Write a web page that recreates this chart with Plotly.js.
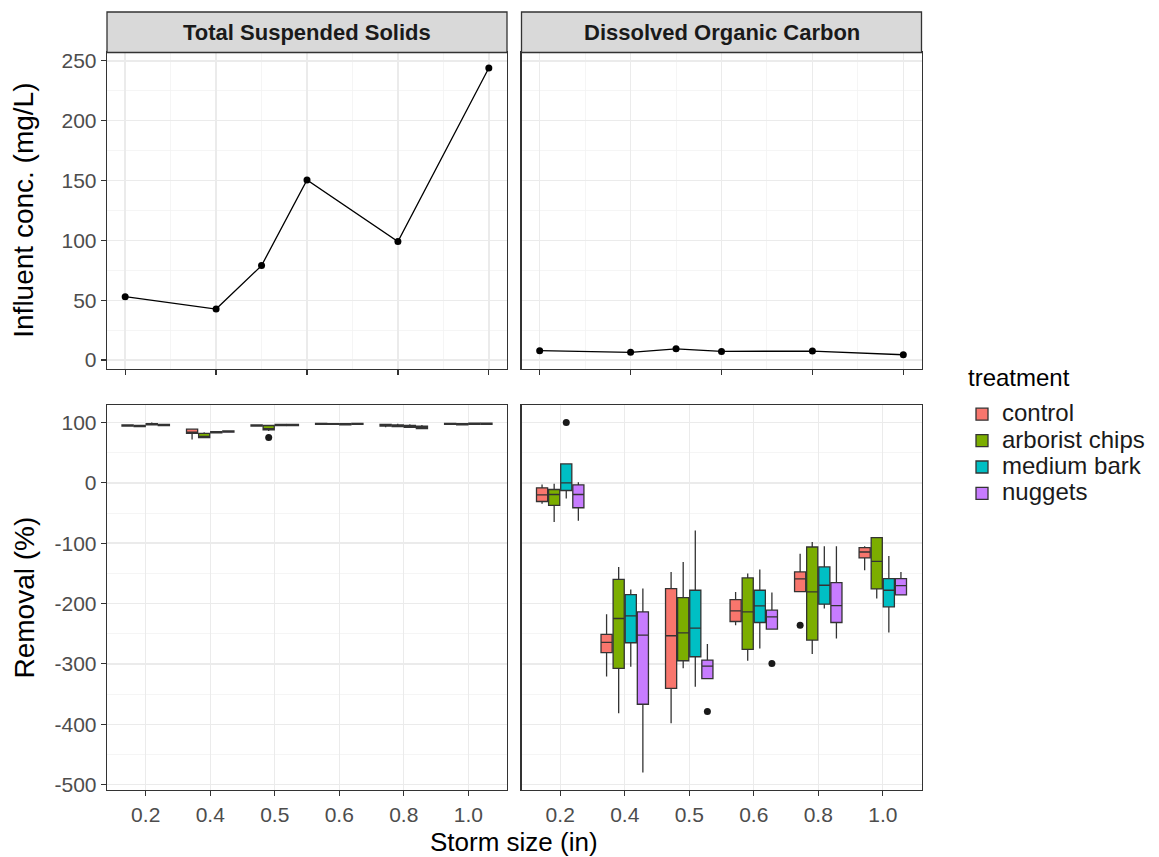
<!DOCTYPE html>
<html>
<head>
<meta charset="utf-8">
<script src="https://cdn.plot.ly/plotly-3.0.1.min.js"></script>
<style>html,body{margin:0;padding:0;background:#fff;}#chart{width:1159px;height:857px;}</style>
</head>
<body>
<div id="chart"></div>
<script>
// ---------------- DATA ----------------
const stormSizes = [0.2, 0.4, 0.5, 0.6, 0.8, 1.0];
const stormLabels = ['0.2', '0.4', '0.5', '0.6', '0.8', '1.0'];
const facetNames = ['Total Suspended Solids', 'Dissolved Organic Carbon'];
const tssInfluent = [52.9, 42.6, 78.9, 150.5, 99.0, 244.0];
const docInfluent = [7.8, 6.4, 9.4, 7.2, 7.5, 4.4];
const treatments = ['control', 'arborist chips', 'medium bark', 'nuggets'];
const removalTicks = [100, 0, -100, -200, -300, -400, -500];

// TSS removal (%) box statistics, per treatment, per storm size
const tssControlQ1  = [94, 82, 94, 97, 94, 97];
const tssControlMed = [95, 84, 95, 98, 95, 98];
const tssControlQ3  = [96, 89, 96, 98.5, 97, 98.5];
const tssControlLo  = [93, 72, 93, 96, 92, 96];
const tssControlHi  = [97, 89, 97, 99, 98, 99];
const tssControlOut = [[], [], [], [], [], []];

const tssChipsQ1  = [93, 75, 88, 97, 93, 96];
const tssChipsMed = [94, 77, 90, 97.5, 95, 97];
const tssChipsQ3  = [95, 82, 95, 98, 96, 98];
const tssChipsLo  = [92, 74, 86, 96, 93, 95];
const tssChipsHi  = [96, 84, 96, 99, 98, 99];
const tssChipsOut = [[], [], [75], [], [], []];

const tssBarkQ1  = [96, 83, 95, 96, 92, 97];
const tssBarkMed = [97, 84, 96, 97, 93, 98];
const tssBarkQ3  = [98, 85, 97, 98, 95, 99];
const tssBarkLo  = [95, 82, 94, 95, 91, 96];
const tssBarkHi  = [100, 86, 98, 99, 97, 99];
const tssBarkOut = [[], [], [], [], [], []];

const tssNuggetsQ1  = [95, 84, 95, 97, 90, 97];
const tssNuggetsMed = [96, 85, 96, 98, 92, 98];
const tssNuggetsQ3  = [97, 86, 97, 98.5, 94, 99];
const tssNuggetsLo  = [94, 83, 94, 97, 89, 96];
const tssNuggetsHi  = [98, 86, 98, 99, 96, 99];
const tssNuggetsOut = [[], [], [], [], [], []];

// DOC removal (%) box statistics
const docControlQ1  = [-30.9, -281.5, -340.5, -229.8, -180.2, -124.5];
const docControlMed = [-19.8, -264.5, -253.4, -212.1, -159.2, -114.6];
const docControlQ3  = [-8.3, -251.2, -175.2, -193.4, -147.7, -107.4];
const docControlLo  = [-34.7, -321.0, -398.3, -235.8, -180.2, -144.9];
const docControlHi  = [-2.8, -217.6, -147.7, -180.7, -117.4, -105.2];
const docControlOut = [[], [], [], [], [-235.8], []];

const docChipsQ1  = [-37.5, -307.4, -294.8, -276.0, -260.6, -175.8];
const docChipsMed = [-19.3, -224.8, -248.5, -213.8, -180.7, -130.0];
const docChipsQ3  = [-11.0, -159.8, -190.1, -157.6, -106.3, -90.9];
const docChipsLo  = [-65.0, -381.8, -307.4, -294.8, -283.7, -191.7];
const docChipsHi  = [-1.7, -139.4, -131.1, -150.4, -98.1, -89.8];
const docChipsOut = [[], [], [], [], [], []];

const docBarkQ1  = [-12.7, -265.0, -288.2, -231.4, -201.1, -205.5];
const docBarkMed = [0.0, -220.4, -240.8, -203.9, -169.7, -178.0];
const docBarkQ3  = [31.4, -185.1, -178.0, -178.0, -139.4, -158.7];
const docBarkLo  = [-26.0, -304.7, -337.7, -274.4, -208.3, -247.9];
const docBarkHi  = [31.4, -176.9, -78.8, -143.8, -105.2, -121.2];
const docBarkOut = [[100], [], [], [], [], []];

const docNuggetsQ1  = [-41.3, -366.9, -324.5, -242.4, -231.4, -185.7];
const docNuggetsMed = [-19.3, -252.3, -303.6, -222.0, -203.3, -170.2];
const docNuggetsQ3  = [-3.3, -213.8, -293.7, -211.0, -165.3, -158.7];
const docNuggetsLo  = [-63.0, -479.9, -324.5, -242.4, -257.9, -185.7];
const docNuggetsHi  = [1.0, -175.2, -267.2, -181.8, -105.2, -147.7];
const docNuggetsOut = [[], [], [-379], [-299.2], [], []];

// ---------------- STYLE ----------------
const W = 1159, H = 857;
const fillColors = ['#F8766D', '#7CAE00', '#00BFC4', '#C77CFF'];
const FONT = 'Liberation Sans, Arial, Helvetica, sans-serif';
const px = v => v / W;
const py = v => 1 - v / H;

const colLeft = [px(107), px(507)];
const colRight = [px(521.5), px(921.5)];
const rowTop = [py(369), py(52.5)];
const rowBottom = [py(790), py(405)];
const stripTop = py(12);

const tssStats = [
  [tssControlQ1, tssControlMed, tssControlQ3, tssControlLo, tssControlHi, tssControlOut],
  [tssChipsQ1, tssChipsMed, tssChipsQ3, tssChipsLo, tssChipsHi, tssChipsOut],
  [tssBarkQ1, tssBarkMed, tssBarkQ3, tssBarkLo, tssBarkHi, tssBarkOut],
  [tssNuggetsQ1, tssNuggetsMed, tssNuggetsQ3, tssNuggetsLo, tssNuggetsHi, tssNuggetsOut]
];
const docStats = [
  [docControlQ1, docControlMed, docControlQ3, docControlLo, docControlHi, docControlOut],
  [docChipsQ1, docChipsMed, docChipsQ3, docChipsLo, docChipsHi, docChipsOut],
  [docBarkQ1, docBarkMed, docBarkQ3, docBarkLo, docBarkHi, docBarkOut],
  [docNuggetsQ1, docNuggetsMed, docNuggetsQ3, docNuggetsLo, docNuggetsHi, docNuggetsOut]
];

const traces = [];
traces.push({
  type: 'scatter', mode: 'lines+markers', x: stormSizes, y: tssInfluent,
  xaxis: 'x', yaxis: 'y', showlegend: false, hoverinfo: 'skip',
  line: {color: '#000000', width: 1.3}, marker: {color: '#000000', size: 7}
});
traces.push({
  type: 'scatter', mode: 'lines+markers', x: stormSizes, y: docInfluent,
  xaxis: 'x2', yaxis: 'y2', showlegend: false, hoverinfo: 'skip',
  line: {color: '#000000', width: 1.3}, marker: {color: '#000000', size: 7}
});

function addBoxes(stats, xa, ya, legend) {
  stats.forEach((s, k) => {
    const hasOut = s[5].some(r => r.length > 0);
    // entries with outliers first (the axis order itself is fixed by categoryarray)
    const order = stormLabels.map((_, i) => i);
    if (hasOut) order.sort((a, b) => (s[5][b].length > 0) - (s[5][a].length > 0));
    const pick = arr => order.map(i => arr[i]);
    const tr = {
      type: 'box', orientation: 'v',
      name: '<span style="font-size:24px">' + treatments[k] + '</span>',
      legendgroup: treatments[k], alignmentgroup: xa, offsetgroup: treatments[k],
      showlegend: legend, xaxis: xa, yaxis: ya,
      x: pick(stormLabels),
      q1: pick(s[0]), median: pick(s[1]), q3: pick(s[2]), lowerfence: pick(s[3]), upperfence: pick(s[4]),
      boxpoints: hasOut ? 'outliers' : false, jitter: 0, pointpos: 0, whiskerwidth: 0,
      fillcolor: fillColors[k],
      line: {color: '#333333', width: 1.3},
      marker: {color: '#1A1A1A', size: 7, line: {width: 0}},
      hoverinfo: 'skip'
    };
    if (hasOut) tr.y = pick(s[5]);
    traces.push(tr);
  });
}
addBoxes(tssStats, 'x3', 'y3', false);
addBoxes(docStats, 'x4', 'y4', true);

const baseAxis = {
  showline: true, mirror: true, linecolor: '#333333', linewidth: 1.3,
  ticks: 'outside', ticklen: 5, tickwidth: 1.2, tickcolor: '#333333',
  showgrid: true, gridcolor: '#EBEBEB', gridwidth: 1.4, zeroline: false,
  tickfont: {family: FONT, size: 21, color: '#4D4D4D'}, fixedrange: true
};
const minorGrid = d => ({dtick: d, showgrid: true, gridcolor: '#F2F2F2', gridwidth: 0.8, ticks: ''});

const removalLabels = removalTicks.map(v => String(v));
const removalMinor = removalTicks.map(v => v + 50);

const layout = {
  width: W, height: H,
  margin: {l: 0, r: 0, t: 0, b: 0},
  paper_bgcolor: '#FFFFFF', plot_bgcolor: '#FFFFFF',
  font: {family: FONT, color: '#000000'},
  boxmode: 'group', boxgap: 0.25, boxgroupgap: 0.08,
  xaxis: Object.assign({}, baseAxis, {domain: colLeft, anchor: 'y', range: [0.16, 1.04],
    tick0: 0.2, dtick: 0.2, showticklabels: false, minor: minorGrid(0.1)}),
  yaxis: Object.assign({}, baseAxis, {domain: rowTop, anchor: 'x', range: [-7.5, 257],
    tick0: 0, dtick: 50, minor: minorGrid(25)}),
  xaxis2: Object.assign({}, baseAxis, {domain: colRight, anchor: 'y2', range: [0.16, 1.04],
    tick0: 0.2, dtick: 0.2, showticklabels: false, minor: minorGrid(0.1)}),
  yaxis2: Object.assign({}, baseAxis, {domain: rowTop, anchor: 'x2', range: [-7.5, 257],
    tick0: 0, dtick: 50, showticklabels: false, ticks: '', minor: minorGrid(25)}),
  xaxis3: Object.assign({}, baseAxis, {domain: colLeft, anchor: 'y3', type: 'category',
    categoryorder: 'array', categoryarray: stormLabels, range: [-0.6, 5.6]}),
  yaxis3: Object.assign({}, baseAxis, {domain: rowBottom, anchor: 'x3', range: [-509, 129],
    tickmode: 'array', tickvals: removalTicks, ticktext: removalLabels,
    minor: {tickmode: 'array', tickvals: removalMinor, showgrid: true, gridcolor: '#F2F2F2', gridwidth: 0.8, ticks: ''}}),
  xaxis4: Object.assign({}, baseAxis, {domain: colRight, anchor: 'y4', type: 'category',
    categoryorder: 'array', categoryarray: stormLabels, range: [-0.6, 5.6]}),
  yaxis4: Object.assign({}, baseAxis, {domain: rowBottom, anchor: 'x4', range: [-509, 129],
    tickmode: 'array', tickvals: removalTicks, ticktext: removalLabels, showticklabels: false, ticks: '',
    minor: {tickmode: 'array', tickvals: removalMinor, showgrid: true, gridcolor: '#F2F2F2', gridwidth: 0.8, ticks: ''}}),
  legend: {
    x: px(962), y: py(396), xanchor: 'left', yanchor: 'top',
    font: {family: FONT, size: 18, color: '#1A1A1A'},
    bgcolor: 'rgba(0,0,0,0)', traceorder: 'normal', itemwidth: 30
  },
  shapes: [
    {type: 'rect', xref: 'x domain', yref: 'paper', x0: 0, x1: 1, y0: rowTop[1], y1: stripTop,
      fillcolor: '#D9D9D9', line: {color: '#333333', width: 1.3}, layer: 'above'},
    {type: 'rect', xref: 'x2 domain', yref: 'paper', x0: 0, x1: 1, y0: rowTop[1], y1: stripTop,
      fillcolor: '#D9D9D9', line: {color: '#333333', width: 1.3}, layer: 'above'},
    {type: 'line', xref: 'x3 domain', yref: 'y3', x0: 0, x1: 1, y0: 0, y1: 0,
      line: {color: '#444444', width: 1.3, dash: '8px,6px'}, layer: 'below'},
    {type: 'line', xref: 'x4 domain', yref: 'y4', x0: 0, x1: 1, y0: 0, y1: 0,
      line: {color: '#444444', width: 1.3, dash: '8px,6px'}, layer: 'below'}
  ],
  annotations: [
    {text: '<b>' + facetNames[0] + '</b>', xref: 'x domain', yref: 'paper', x: 0.5, y: (rowTop[1] + stripTop) / 2,
      xanchor: 'center', yanchor: 'middle', showarrow: false, font: {family: FONT, size: 22, color: '#1A1A1A'}},
    {text: '<b>' + facetNames[1] + '</b>', xref: 'x2 domain', yref: 'paper', x: 0.5, y: (rowTop[1] + stripTop) / 2,
      xanchor: 'center', yanchor: 'middle', showarrow: false, font: {family: FONT, size: 22, color: '#1A1A1A'}},
    {text: 'Influent conc. (mg/L)', xref: 'paper', yref: 'paper', x: px(24), y: (rowTop[0] + rowTop[1]) / 2,
      xanchor: 'center', yanchor: 'middle', textangle: -90, showarrow: false, font: {family: FONT, size: 28, color: '#000000'}},
    {text: 'Removal (%)', xref: 'paper', yref: 'paper', x: px(24), y: (rowBottom[0] + rowBottom[1]) / 2,
      xanchor: 'center', yanchor: 'middle', textangle: -90, showarrow: false, font: {family: FONT, size: 28, color: '#000000'}},
    {text: 'Storm size (in)', xref: 'paper', yref: 'paper', x: (colLeft[0] + colRight[1]) / 2, y: py(842),
      xanchor: 'center', yanchor: 'middle', showarrow: false, font: {family: FONT, size: 26, color: '#000000'}},
    {text: 'treatment', xref: 'paper', yref: 'paper', x: px(966), y: py(377),
      xanchor: 'left', yanchor: 'middle', showarrow: false, font: {family: FONT, size: 24, color: '#000000'}}
  ]
};

Plotly.newPlot('chart', traces, layout, {staticPlot: true, displayModeBar: false});
</script>
</body>
</html>
